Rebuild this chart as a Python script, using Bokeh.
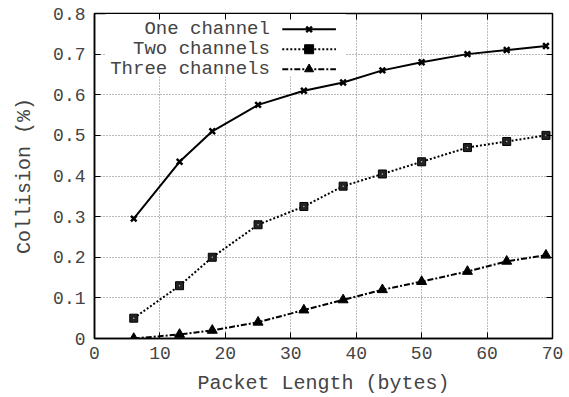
from bokeh.plotting import figure
from bokeh.models import (LinearAxis, FixedTicker, BoxAnnotation, Label, Range1d, ColumnDataSource)
from bokeh.embed import file_html
from bokeh.resources import INLINE

packet_length = [6, 13, 18, 25, 32, 38, 44, 50, 57, 63, 69]
one_channel = [0.295, 0.435, 0.51, 0.575, 0.61, 0.63, 0.66, 0.68, 0.70, 0.71, 0.72]
two_channels = [0.05, 0.13, 0.20, 0.28, 0.325, 0.375, 0.405, 0.435, 0.47, 0.485, 0.50]
three_channels = [0.0, 0.01, 0.02, 0.04, 0.07, 0.095, 0.12, 0.14, 0.165, 0.19, 0.205]
series_names = ["One channel", "Two channels", "Three channels"]
x_ticks = [0, 10, 20, 30, 40, 50, 60, 70]
y_ticks = [0, 0.1, 0.2, 0.3, 0.4, 0.5, 0.6, 0.7, 0.8]

FONT = "Liberation Mono"
TXT = "#444444"

p = figure(width=569, height=397, output_backend="svg", toolbar_location=None,
           x_range=Range1d(0, 70), y_range=Range1d(0, 0.8),
           min_border_left=94, min_border_right=17, min_border_top=13, min_border_bottom=58)
p.background_fill_color = "white"
p.outline_line_color = "black"
p.outline_line_width = 1.5

for ax in (p.xaxis[0], p.yaxis[0]):
    ax.major_label_text_font = FONT
    ax.major_label_text_font_size = "18px"
    ax.major_label_text_color = TXT
    ax.axis_label_text_font = FONT
    ax.axis_label_text_font_size = "20px"
    ax.axis_label_text_font_style = "normal"
    ax.axis_label_text_color = TXT
    ax.major_tick_in = 6
    ax.major_tick_out = 0
    ax.minor_tick_line_color = None
    ax.axis_line_color = "black"
    ax.axis_line_width = 1.5
    ax.major_tick_line_color = "black"

p.xaxis.ticker = FixedTicker(ticks=x_ticks)
p.yaxis.ticker = FixedTicker(ticks=y_ticks)
p.xaxis.axis_label = "Packet Length (bytes)"
p.yaxis.axis_label = "Collision (%)"
p.yaxis.major_label_overrides = {0: "0"}
p.xaxis.major_label_standoff = 8
p.yaxis.major_label_standoff = 9
p.xaxis.axis_label_standoff = 10
p.yaxis.axis_label_standoff = 14

for loc in ("above", "right"):
    a = LinearAxis(ticker=FixedTicker(ticks=x_ticks if loc == "above" else y_ticks))
    a.major_label_text_font_size = "0px"
    a.major_label_text_alpha = 0
    a.major_label_standoff = 0
    a.major_tick_in = 6
    a.major_tick_out = 0
    a.minor_tick_line_color = None
    a.axis_line_color = "black"
    a.major_tick_line_color = "black"
    p.add_layout(a, loc)

for g, t in ((p.xgrid[0], x_ticks), (p.ygrid[0], y_ticks)):
    g.ticker = FixedTicker(ticks=t)
    g.grid_line_color = "#777777"
    g.grid_line_dash = "1 2"
    g.grid_line_width = 1

# legend background (opaque key box)
p.add_layout(BoxAnnotation(left=1.7, right=38.4, bottom=0.645, top=0.799,
                           fill_color="white", fill_alpha=1.0, line_color=None, level="underlay"))

src = ColumnDataSource(dict(x=packet_length, a=one_channel, b=two_channels, c=three_channels))

p.line("x", "a", source=src, line_color="black", line_width=2)
p.scatter("x", "a", source=src, marker="x", size=8, line_color="black", line_width=2.5)

p.line("x", "b", source=src, line_color="black", line_width=2, line_dash="2 2")
p.scatter("x", "b", source=src, marker="square", size=8, fill_color="#222222", line_color="black")
p.scatter("x", "b", source=src, marker="dot", size=6, line_color="#bbbbbb")

p.line("x", "c", source=src, line_color="black", line_width=2, line_dash="6 2 2 2")
p.scatter("x", "c", source=src, marker="triangle", size=10, fill_color="black", line_color="black")

# key (gnuplot style: text right-aligned, sample on the right)
key_y = [0.761, 0.712, 0.663]
key_markers = ["x", "square", "triangle"]
key_dash = ["solid", "2 2", "6 2 2 2"]
for name, yy, mk, dash in zip(series_names, key_y, key_markers, key_dash):
    p.add_layout(Label(x=26.8, y=yy, text=name, text_align="right", text_baseline="middle",
                       text_font=FONT, text_font_size="19px", text_color=TXT))
    p.line(x=[28.7, 36.9], y=[yy, yy], line_color="black", line_width=2, line_dash=dash)
    p.scatter(x=[32.8], y=[yy], marker=mk, size=9 if mk != "x" else 8,
              fill_color="black", line_color="black", line_width=2.5 if mk == "x" else 1)

open("out.html", "w").write(file_html(p, INLINE))
